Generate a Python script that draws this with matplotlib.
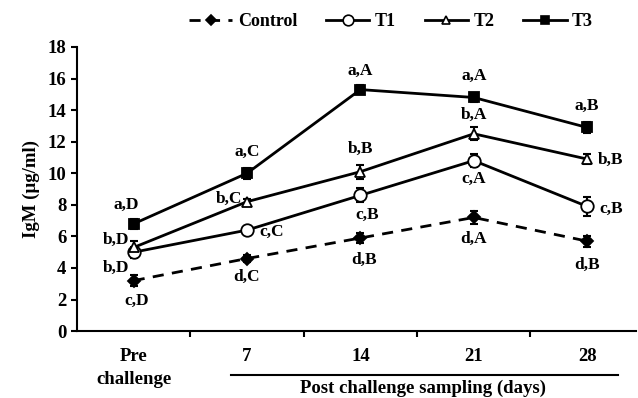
import matplotlib
matplotlib.use('Agg')
import matplotlib.pyplot as plt
from matplotlib.lines import Line2D

plt.rcParams['font.family'] = ['Liberation Serif', 'DejaVu Serif']
plt.rcParams['font.weight'] = 'bold'

# data
categories = ['Pre\nchallenge', '7', '14', '21', '28']
control = [3.2, 4.6, 5.9, 7.2, 5.7]
control_err = [0.35, 0.25, 0.3, 0.4, 0.35]
t1 = [5.0, 6.4, 8.6, 10.8, 7.9]
t1_err = [0.35, 0.2, 0.45, 0.4, 0.6]
t2 = [5.3, 8.2, 10.1, 12.5, 10.9]
t2_err = [0.4, 0.2, 0.45, 0.4, 0.3]
t3 = [6.8, 10.0, 15.3, 14.8, 12.9]
t3_err = [0.3, 0.35, 0.3, 0.3, 0.35]

control_lbl = ['c,D', 'd,C', 'd,B', 'd,A', 'd,B']
t1_lbl = ['b,D', 'c,C', 'c,B', 'c,A', 'c,B']
t2_lbl = ['b,D', 'b,C', 'b,B', 'b,A', 'b,B']
t3_lbl = ['a,D', 'a,C', 'a,A', 'a,A', 'a,B']

x = list(range(len(categories)))

fig = plt.figure(figsize=(6.38, 3.98), dpi=100)
ax = fig.add_axes([0.1207, 0.168, 0.876, 0.714])

styles = [
    (control, control_err, 'D', 'black', (0, (4, 3)), 6),
    (t1, t1_err, 'o', 'white', '-', 9),
    (t2, t2_err, '^', 'white', '-', 7),
    (t3, t3_err, 's', 'black', '-', 6.5),
]
handles = []
for vals, err, mk, fc, ls, ms in styles:
    ax.errorbar(x, vals, yerr=err, fmt='none', ecolor='black', elinewidth=1.5,
                capsize=3, capthick=1.5, zorder=3)
    ax.plot(x, vals, color='black', linestyle=ls, linewidth=2, marker=mk,
            markerfacecolor=fc, markeredgecolor='black', markeredgewidth=1.3,
            markersize=ms, zorder=4)
    handles.append(Line2D([], [], color='black', linestyle=ls, linewidth=2, marker=mk,
                          markerfacecolor=fc, markeredgecolor='black',
                          markeredgewidth=1.2, markersize=ms * 0.85))

# letter annotations: (values, labels, offsets in pixels, alignments)
ann = [
    (control, control_lbl, [(3, -20), (0, -18), (4, -22), (0, -21), (0, -24)],
     ['center'] * 5),
    (t1, t1_lbl, [(-18, -16), (12, -2), (7, -20), (0, -18), (12, -2)],
     ['center', 'left', 'center', 'center', 'left']),
    (t2, t2_lbl, [(-18, 8), (-5, 3), (0, 23), (0, 19), (11, -1)],
     ['center', 'right', 'center', 'center', 'left']),
    (t3, t3_lbl, [(-7, 19), (0, 21), (0, 19), (0, 22), (0, 22)],
     ['center'] * 5),
]
for vals, lbls, offs, has in ann:
    for i in range(len(vals)):
        ax.annotate(lbls[i], (x[i], vals[i]), xytext=offs[i], textcoords='offset pixels',
                    ha=has[i], va='center', fontsize=12.5, fontweight='bold')

ax.set_xlim(-0.5, 4.43)
ax.set_ylim(0, 18)
ax.set_yticks(range(0, 19, 2))
ax.set_xticks([i + 0.5 for i in x[:-1]])
ax.set_xticklabels([])
for i, c in enumerate(categories):
    ax.text(x[i], -1.05, c, ha='center', va='top', fontsize=13.5, fontweight='bold',
            linespacing=1.5)
ax.spines['top'].set_visible(False)
ax.spines['right'].set_visible(False)
for s in ['left', 'bottom']:
    ax.spines[s].set_linewidth(1.5)
ax.tick_params(axis='both', direction='out', length=4, width=1.5, labelsize=13.5)
for lab in ax.get_yticklabels():
    lab.set_fontweight('bold')
ax.set_ylabel('IgM (µg/ml)', fontsize=13.5, fontweight='bold', labelpad=6)

# bracket line under the post-challenge days
ax.plot([0.86, 4.27], [-2.75, -2.75], color='black', linewidth=1.5, clip_on=False)
ax.text(2.55, -3.65, 'Post challenge sampling (days)', ha='center', va='center',
        fontsize=13.5, fontweight='bold')

fig.legend(handles, ['Control', 'T1', 'T2', 'T3'], loc='center', ncol=4,
           bbox_to_anchor=(0.613, 0.945), frameon=False, fontsize=13,
           handlelength=2.4, columnspacing=1.6, handletextpad=0.3)

fig.savefig('out.png', dpi=100)
